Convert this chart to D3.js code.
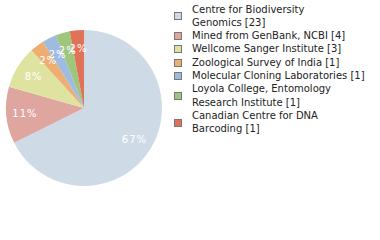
<!DOCTYPE html>
<html>
<head>
<meta charset="utf-8">
<script src="https://cdn.jsdelivr.net/npm/d3@7.9.0/dist/d3.min.js"></script>
<style>
  body { margin: 0; background: #fff; }
  svg { display: block; }
  text { font-family: "DejaVu Sans", Verdana, sans-serif; }
</style>
</head>
<body>
<svg id="chart" width="380" height="240"></svg>
<script>
const labels = [
  ['Centre for Biodiversity', 'Genomics [23]'],
  ['Mined from GenBank, NCBI [4]'],
  ['Wellcome Sanger Institute [3]'],
  ['Zoological Survey of India [1]'],
  ['Molecular Cloning Laboratories [1]'],
  ['Loyola College, Entomology', 'Research Institute [1]'],
  ['Canadian Centre for DNA', 'Barcoding [1]'],
];
const counts = [23, 4, 3, 1, 1, 1, 1];
const colors = ['#cedbe6', '#dfa69f', '#dfe3a0', '#eeae72', '#9fbbe2', '#9ec67d', '#df7257'];

const svg = d3.select('#chart');
const cx = 84;
const cy = 108;
const radius = 78;
const total = d3.sum(counts);

const pie = d3.pie().sort(null).value((d) => d);
const arc = d3.arc().innerRadius(0).outerRadius(radius);
const labelArc = d3.arc().innerRadius(radius * 0.76).outerRadius(radius * 0.76);

const g = svg.append('g').attr('transform', `translate(${cx},${cy})`);
const arcs = pie(counts);

g.selectAll('path')
  .data(arcs)
  .join('path')
  .attr('d', arc)
  .attr('fill', (d, i) => colors[i]);

g.selectAll('text')
  .data(arcs)
  .join('text')
  .attr('transform', (d) => `translate(${labelArc.centroid(d)})`)
  .attr('text-anchor', 'middle')
  .attr('dy', '0.35em')
  .attr('fill', '#fff')
  .attr('font-size', 10)
  .attr('letter-spacing', 1)
  .text((d) => `${Math.floor((d.value / total) * 100)}%`);

// legend, one row per text line
const lineHeight = 13.3;
const legend = svg.append('g').attr('transform', 'translate(174,0)');
let line = 0;
labels.forEach((lines, i) => {
  const top = 9 + line * lineHeight;
  const mid = top + ((lines.length - 1) * lineHeight) / 2;
  legend.append('rect')
    .attr('x', 0.5)
    .attr('y', Math.round(mid - 3.5) + 0.5)
    .attr('width', 7)
    .attr('height', 7)
    .attr('fill', colors[i])
    .attr('stroke', '#777')
    .attr('stroke-width', 1);
  lines.forEach((t, j) => {
    legend.append('text')
      .attr('x', 18)
      .attr('y', top + j * lineHeight)
      .attr('dy', '0.35em')
      .attr('font-size', 10)
      .attr('fill', '#222')
      .text(t);
  });
  line += lines.length;
});
</script>
</body>
</html>
